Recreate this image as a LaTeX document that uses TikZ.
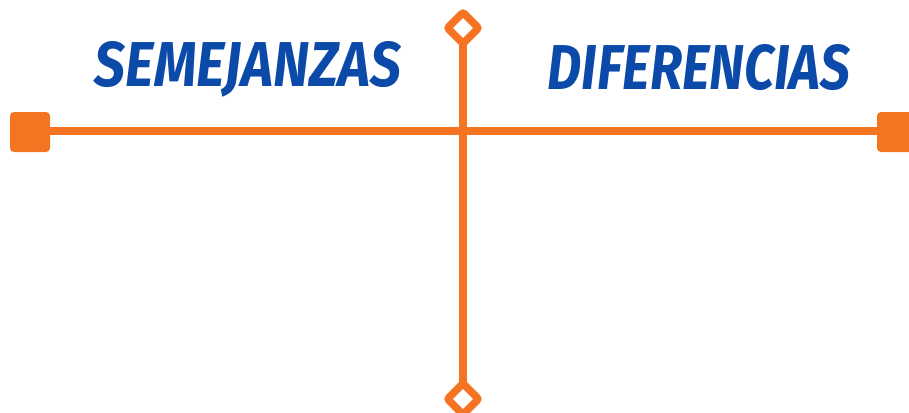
\documentclass[tikz,border=0pt]{standalone}
\usepackage{fontspec}
\setmainfont{Fira Sans}
\usetikzlibrary{shapes.geometric}
\definecolor{orng}{HTML}{F47421}
\definecolor{blu}{HTML}{0B4AA8}
\tikzset{
  bar/.style={draw=orng, line width=8pt},
  sqend/.style={fill=orng, rounded corners=4pt},
  dmd/.style={draw=orng, fill=white, line width=7.5pt, rounded corners=2pt},
  title/.style={text=blu, inner sep=0pt, anchor=center}
}
\begin{document}
\begin{tikzpicture}[x=1pt,y=-1pt]
\useasboundingbox (0,0) rectangle (909,412);
\coordinate (L) at (30,131);
\coordinate (R) at (897,131);
\coordinate (T) at (463,28);
\coordinate (B) at (463,399);
\draw[bar] (L) -- (R);
\draw[bar] ([yshift=-15pt]T) -- ([yshift=15pt]B);
\fill[sqend] (10,112) rectangle (50,152);
\fill[sqend] (877,112) rectangle (917,152);
\draw[dmd] (T) ++(0,-15.5) -- ++(15.5,15.5) -- ++(-15.5,15.5) -- ++(-15.5,-15.5) -- cycle;
\draw[dmd] (B) ++(0,-15.5) -- ++(15.5,15.5) -- ++(-15.5,15.5) -- ++(-15.5,-15.5) -- cycle;
\node[title] (sem) at (248,69) {\resizebox{306pt}{45pt}{\bfseries\itshape SEMEJANZAS}};
\node[title] (dif) at (699,67.5) {\resizebox{302pt}{45pt}{\bfseries\itshape DIFERENCIAS}};
\end{tikzpicture}
\end{document}
